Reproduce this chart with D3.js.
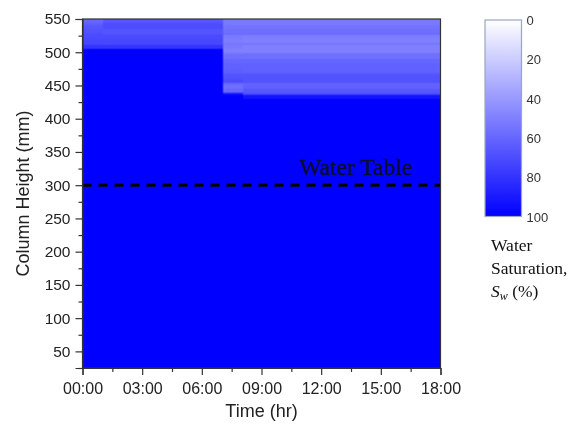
<!DOCTYPE html>
<html>
<head>
<meta charset="utf-8">
<script src="https://cdn.jsdelivr.net/npm/d3@7/dist/d3.min.js"></script>
<style>
  html, body { margin: 0; padding: 0; background: #fff; }
  #wrap { position: relative; width: 577px; height: 425px; }
  #heat { position: absolute; }
  svg { position: absolute; left: 0; top: 0; display: block; }
</style>
</head>
<body>
<div id="wrap">
<canvas id="heat"></canvas>
<svg id="chart" width="577" height="425"></svg>
</div>
<script>
// ---------------- DATA ----------------
const xTickLabels = ["00:00", "03:00", "06:00", "09:00", "12:00", "15:00", "18:00"];
const xTickHours = [0, 3, 6, 9, 12, 15, 18];
const yTicks = [50, 100, 150, 200, 250, 300, 350, 400, 450, 500, 550];
const colorbarTicks = [0, 20, 40, 60, 80, 100];
const waterTableHeight = 300;
const waterTableLabel = "Water Table";

// time segment edges (hr) and height band edges (mm)
const timeEdges = [0, 1.0, 7.05, 8.0, 18];
const heightEdges = [550, 545, 540, 535, 530, 525, 520, 515, 510, 505, 500, 495, 490, 485,
                     480, 475, 470, 465, 460, 455, 450, 445, 440, 435, 430, 25];
// saturation (%) per height band (rows, top first) and time segment (columns)
const saturation = [
  [60, 66, 52, 52],
  [63, 70, 53, 53],
  [66, 70, 55, 55],
  [68, 67, 57, 57],
  [70, 68, 58, 58],
  [71, 71, 52, 51],
  [72, 72, 51, 50],
  [73, 72, 54, 54],
  [80, 80, 52, 50],
  [100, 100, 50, 50],
  [100, 100, 55, 56],
  [100, 100, 57, 56],
  [100, 100, 60, 60],
  [100, 100, 62, 62],
  [100, 100, 62, 62],
  [100, 100, 63, 62],
  [100, 100, 66, 66],
  [100, 100, 68, 68],
  [100, 100, 70, 68],
  [100, 100, 60, 62],
  [100, 100, 57, 62],
  [100, 100, 60, 66],
  [100, 100, 90, 70],
  [100, 100, 100, 92],
  [100, 100, 100, 100]
];

// ---------------- LAYOUT ----------------
const svg = d3.select("#chart");
const plot = { left: 82.5, right: 440.5, top: 19, bottom: 368 };

const x = d3.scaleLinear().domain([0, 18]).range([plot.left, plot.right]);
const y = d3.scaleLinear().domain([25, 550]).range([plot.bottom, plot.top]);
const color = d3.scaleLinear().domain([0, 100]).range(["#ffffff", "#0000ff"]);

// ---------------- HEATMAP (canvas, drawn at half resolution and smoothed) ----------------
const cells = [];
saturation.forEach((row, i) => {
  row.forEach((v, j) => {
    cells.push({ t0: timeEdges[j], t1: timeEdges[j + 1], h0: heightEdges[i + 1], h1: heightEdges[i], v });
  });
});
const W = plot.right - plot.left, H = plot.bottom - plot.top;
const k = 0.5; // offscreen resolution factor
const off = document.createElement("canvas");
off.width = Math.round(W * k); off.height = Math.round(H * k);
const octx = off.getContext("2d");
octx.fillStyle = color(100);
octx.fillRect(0, 0, off.width, off.height);
cells.forEach(d => {
  const x0 = Math.round((x(d.t0) - plot.left) * k);
  const x1 = Math.round((x(d.t1) - plot.left) * k);
  const y0 = Math.round((y(d.h1) - plot.top) * k);
  const y1 = Math.round((y(d.h0) - plot.top) * k);
  octx.fillStyle = color(d.v);
  octx.fillRect(x0, y0, Math.max(1, x1 - x0), Math.max(1, y1 - y0));
});

const cnv = document.getElementById("heat");
cnv.width = Math.round(W); cnv.height = Math.round(H);
cnv.style.left = Math.round(plot.left) + "px"; cnv.style.top = plot.top + "px";
const ctx = cnv.getContext("2d");
ctx.imageSmoothingEnabled = true;
ctx.imageSmoothingQuality = "high";
ctx.drawImage(off, 0, 0, cnv.width, cnv.height);

// ---------------- WATER TABLE ----------------
svg.append("line")
  .attr("x1", plot.left).attr("x2", plot.right)
  .attr("y1", y(waterTableHeight)).attr("y2", y(waterTableHeight))
  .attr("stroke", "#000").attr("stroke-width", 3)
  .attr("stroke-dasharray", "9,7");
svg.append("text")
  .attr("x", x(10.9)).attr("y", y(waterTableHeight) - 10)
  .attr("font-family", "'Liberation Serif', 'Times New Roman', serif")
  .attr("font-size", 23.5)
  .attr("fill", "#0c0c2e")
  .attr("stroke", "#0c0c2e").attr("stroke-width", 0.3)
  .text(waterTableLabel);

// ---------------- AXES ----------------
const axisColor = "#333";
const tickFont = "'Liberation Sans', Arial, sans-serif";

svg.append("rect")
  .attr("x", plot.left).attr("y", plot.top)
  .attr("width", W).attr("height", H)
  .attr("fill", "none").attr("stroke", axisColor).attr("stroke-width", 1.2);

const xAxis = d3.axisBottom(x).tickValues(xTickHours)
  .tickFormat((d, i) => xTickLabels[i]).tickSize(7).tickPadding(8);
const gx = svg.append("g").attr("transform", `translate(0,${plot.bottom})`).call(xAxis);
gx.select(".domain").attr("stroke", axisColor).attr("stroke-width", 1.2);
gx.selectAll(".tick line").attr("stroke", axisColor).attr("stroke-width", 1.2);
gx.selectAll(".tick text").attr("font-family", tickFont).attr("font-size", 16).attr("fill", "#222");
const xMinor = d3.axisBottom(x).tickValues(d3.range(1.5, 18, 3)).tickSize(4).tickFormat("");
const gxm = svg.append("g").attr("transform", `translate(0,${plot.bottom})`).call(xMinor);
gxm.select(".domain").remove();
gxm.selectAll(".tick line").attr("stroke", axisColor).attr("stroke-width", 1.2);

const yAxis = d3.axisLeft(y).tickValues(yTicks).tickSize(7).tickPadding(5);
const gy = svg.append("g").attr("transform", `translate(${plot.left},0)`).call(yAxis);
gy.select(".domain").attr("stroke", axisColor).attr("stroke-width", 1.2);
gy.selectAll(".tick line").attr("stroke", axisColor).attr("stroke-width", 1.2);
gy.selectAll(".tick text").attr("font-family", tickFont).attr("font-size", 15.5).attr("fill", "#222");
const yMinor = d3.axisLeft(y).tickValues(d3.range(25, 550, 50)).tickSize(4).tickFormat("");
const gym = svg.append("g").attr("transform", `translate(${plot.left},0)`).call(yMinor);
gym.select(".domain").remove();
gym.selectAll(".tick line").attr("stroke", axisColor).attr("stroke-width", 1.2);

svg.append("text")
  .attr("x", (plot.left + plot.right) / 2).attr("y", 417)
  .attr("text-anchor", "middle")
  .attr("font-family", tickFont).attr("font-size", 18).attr("fill", "#222")
  .text("Time (hr)");
svg.append("text")
  .attr("transform", `translate(29,${(plot.top + plot.bottom) / 2}) rotate(-90)`)
  .attr("text-anchor", "middle")
  .attr("font-family", tickFont).attr("font-size", 18).attr("fill", "#222")
  .text("Column Height (mm)");

// ---------------- COLORBAR ----------------
const defs = svg.append("defs");
const cb = { left: 485, width: 36.5, top: 20, bottom: 216.5 };
const cy = d3.scaleLinear().domain([0, 100]).range([cb.top, cb.bottom]);
const grad = defs.append("linearGradient").attr("id", "cbGrad")
  .attr("x1", 0).attr("x2", 0).attr("y1", 0).attr("y2", 1);
grad.selectAll("stop").data(colorbarTicks).join("stop")
  .attr("offset", d => d / 100)
  .attr("stop-color", d => color(d));
svg.append("rect")
  .attr("x", cb.left).attr("y", cb.top)
  .attr("width", cb.width).attr("height", cb.bottom - cb.top)
  .attr("fill", "url(#cbGrad)")
  .attr("stroke", "#9aa6bf").attr("stroke-width", 1.2);
svg.append("g").selectAll("text").data(colorbarTicks).join("text")
  .attr("x", cb.left + cb.width + 5)
  .attr("y", d => cy(d) + 5)
  .attr("font-family", tickFont).attr("font-size", 13).attr("fill", "#333")
  .text(d => d);

const serif = "'Liberation Serif', 'Times New Roman', serif";
const lt = svg.append("g").attr("font-family", serif).attr("font-size", 17.5).attr("fill", "#111");
lt.append("text").attr("x", 491).attr("y", 251).text("Water");
lt.append("text").attr("x", 491).attr("y", 274).text("Saturation,");
const sw = lt.append("text").attr("x", 491).attr("y", 297);
sw.append("tspan").attr("font-style", "italic").text("S");
sw.append("tspan").attr("font-style", "italic").attr("font-size", 12).attr("dy", 3).text("w");
sw.append("tspan").attr("dy", -3).text(" (%)");
</script>
</body>
</html>
